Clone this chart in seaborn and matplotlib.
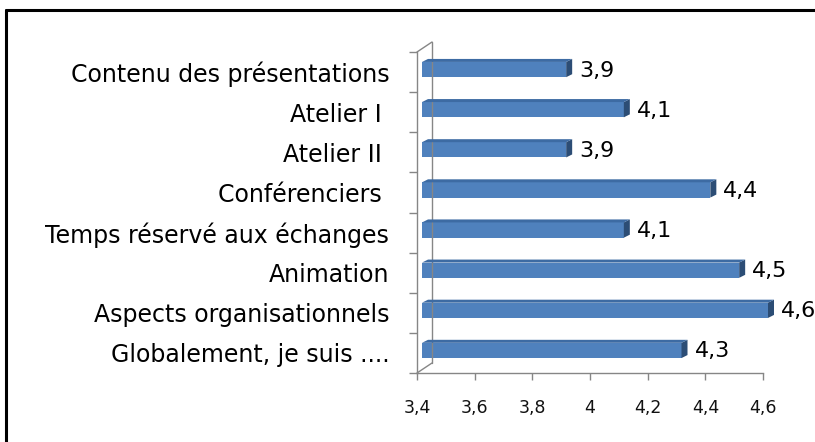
import matplotlib
matplotlib.use("Agg")
import matplotlib.pyplot as plt
import seaborn as sns
import pandas as pd
from matplotlib.patches import Polygon
from matplotlib.lines import Line2D
from matplotlib.transforms import ScaledTranslation

categories = ["Contenu des présentations", "Atelier I ", "Atelier II ", "Conférenciers ",
              "Temps réservé aux échanges", "Animation", "Aspects organisationnels",
              "Globalement, je suis ...."]
values = [3.9, 4.1, 3.9, 4.4, 4.1, 4.5, 4.6, 4.3]
value_labels = ["3,9", "4,1", "3,9", "4,4", "4,1", "4,5", "4,6", "4,3"]
xticks = [3.4, 3.6, 3.8, 4.0, 4.2, 4.4, 4.6]
xtick_labels = ["3,4", "3,6", "3,8", "4", "4,2", "4,4", "4,6"]

sns.set_style("white")
plt.rcParams["font.family"] = ["DejaVu Sans"]

W, H = 815, 442
fig = plt.figure(figsize=(W / 100, H / 100), dpi=100)
ax_l, ax_b, ax_w, ax_h = 417, 373, 346, 321
ax = fig.add_axes([ax_l / W, 1 - ax_b / H, ax_w / W, ax_h / H])

df = pd.DataFrame({"cat": categories, "val": values})
sns.barplot(data=df, x="val", y="cat", orient="h", color="#4F81BD",
            saturation=1, width=0.38, ax=ax, edgecolor="none")
ax.set_xlim(3.4, 4.6)
ax.set_ylim(7.5, -0.5)

# pixel -> data conversions
px_x = (4.6 - 3.4) / ax_w
px_y = 8.0 / ax_h

shift = ScaledTranslation(5 / 100, 2.5 / 100, fig.dpi_scale_trans)
dx, dy = 6 * px_x, 3 * px_y
x0 = ax.get_xlim()[0]
for p in ax.patches:
    x1 = p.get_x() + p.get_width()
    # start the visible bar at the axis floor so nothing is clipped on the right
    p.set_x(x0)
    p.set_width(x1 - x0)
    p.set_transform(ax.transData + shift)
    p.set_clip_on(False)
    yt = p.get_y()
    yb = p.get_y() + p.get_height()
    side = Polygon([(x1, yb), (x1, yt), (x1 + dx, yt - dy), (x1 + dx, yb - dy)],
                   closed=True, facecolor="#2C4D75", edgecolor="none",
                   transform=ax.transData + shift, clip_on=False, zorder=3)
    top = Polygon([(x0, yt), (x1, yt), (x1 + dx, yt - dy), (x0 + dx, yt - dy)],
                  closed=True, facecolor="#3D6BA3", edgecolor="none",
                  transform=ax.transData + shift, clip_on=False, zorder=3)
    ax.add_patch(side)
    ax.add_patch(top)

for i, (v, lab) in enumerate(zip(values, value_labels)):
    ax.text(v + 18 * px_x, i - 1.5 * px_y, lab, ha="left", va="center",
            fontsize=16, color="black")

# axes styling
for s in ["top", "right"]:
    ax.spines[s].set_visible(False)
for s in ["left", "bottom"]:
    ax.spines[s].set_color("#868686")
    ax.spines[s].set_linewidth(1.0)

ax.set_xticks(xticks)
ax.set_xticklabels(xtick_labels, fontsize=12.5, color="#111111")
ax.tick_params(axis="x", direction="out", length=5, width=1, color="#868686", pad=14, bottom=True)
ax.set_yticks(range(len(categories)))
ax.set_yticklabels(categories, fontsize=17, color="black")
ax.set_yticks([i - 0.5 for i in range(len(categories) + 1)], minor=True)
ax.tick_params(axis="y", which="major", length=0, pad=20)
ax.tick_params(axis="y", which="minor", direction="out", length=6, width=1, color="#868686", left=True)
ax.set_xlabel("")
ax.set_ylabel("")

# back wall of the 3D frame
dxa, dya = 15 / ax_w, 10 / ax_h
wall = dict(color="#868686", lw=1.0, transform=ax.transAxes, clip_on=False)
ax.add_line(Line2D([dxa, dxa], [dya, 1 + dya], **wall))
ax.add_line(Line2D([0, dxa], [0, dya], **wall))
ax.add_line(Line2D([0, dxa], [1, 1 + dya], **wall))

# outer frame (partially cropped)
fig.add_artist(Line2D([6 / W, 6 / W], [0, 1 - 10 / H], color="black", lw=2.2,
                      transform=fig.transFigure))
fig.add_artist(Line2D([6 / W, 1], [1 - 10 / H, 1 - 10 / H], color="black", lw=2.2,
                      transform=fig.transFigure))

fig.savefig("out.png", dpi=100)
